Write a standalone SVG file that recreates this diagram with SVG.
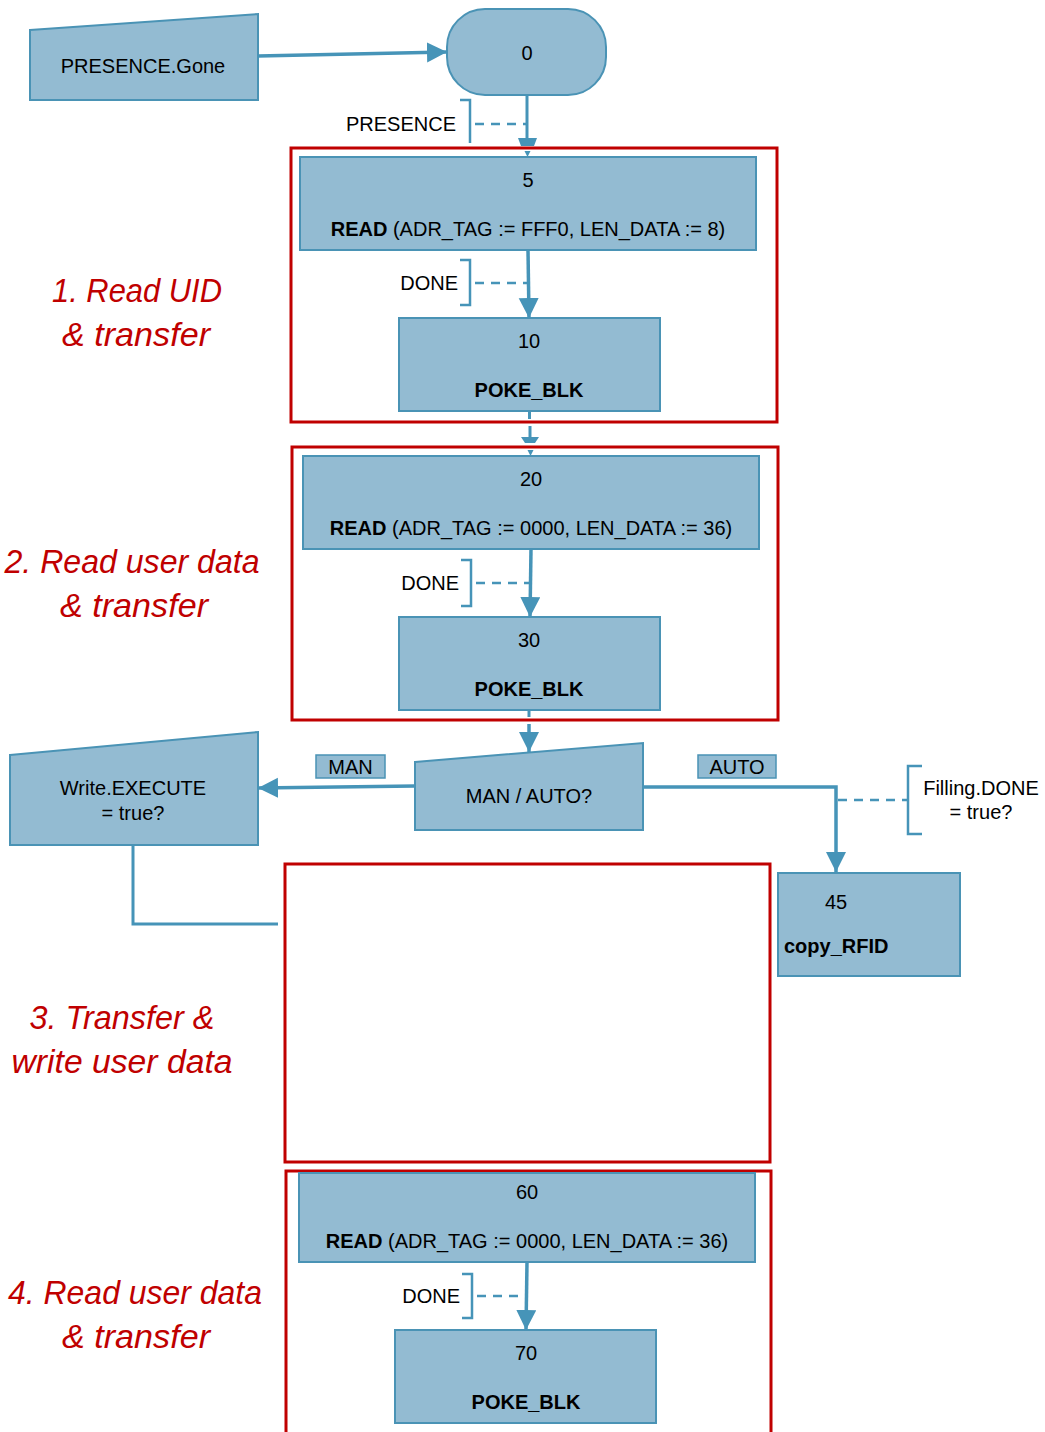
<svg xmlns="http://www.w3.org/2000/svg" width="1045" height="1432" viewBox="0 0 1045 1432">
<style>
.node{fill:#93BBD2;stroke:#4A93B5;stroke-width:2}
.lbl{fill:#93BBD2;stroke:#4A93B5;stroke-width:1.5}
.grp{fill:none;stroke:#C00000;stroke-width:3}
.t{font-family:"Liberation Sans",Arial,sans-serif;font-size:20px;fill:#000}
.b{font-weight:bold}
.r{font-family:"Liberation Sans",Arial,sans-serif;font-style:italic;font-size:34px;fill:#C00000}
.c{fill:none;stroke:#4694B8;stroke-width:3.5}
.cl{fill:none;stroke:#4694B8;stroke-width:3}
.br{fill:none;stroke:#4694B8;stroke-width:2.5}
.d{fill:none;stroke:#4694B8;stroke-width:2.5;stroke-dasharray:9,7}
.ah{fill:#4694B8}
</style>
<defs>
<marker id="arr" markerUnits="userSpaceOnUse" markerWidth="22" markerHeight="22" refX="20" refY="10" orient="auto">
<path d="M0,0 L20,10 L0,20 Z" fill="#4694B8"/>
</marker>
</defs>

<!-- group frames -->
<g id="groups">
<rect class="grp" x="291" y="148" width="486" height="274"/>
<rect class="grp" x="292" y="447" width="486" height="273"/>
<rect class="grp" x="285" y="864" width="485" height="298"/>
<rect class="grp" x="286" y="1171" width="485" height="270"/>
</g>

<!-- red labels -->
<g id="labels">
<text class="r" x="137" y="302" text-anchor="middle" textLength="170" lengthAdjust="spacingAndGlyphs">1. Read UID</text>
<text class="r" x="136" y="346" text-anchor="middle" textLength="148" lengthAdjust="spacingAndGlyphs">&amp; transfer</text>
<text class="r" x="132" y="573" text-anchor="middle" textLength="255" lengthAdjust="spacingAndGlyphs">2. Read user data</text>
<text class="r" x="134" y="617" text-anchor="middle" textLength="148" lengthAdjust="spacingAndGlyphs">&amp; transfer</text>
<text class="r" x="122" y="1029" text-anchor="middle" textLength="185" lengthAdjust="spacingAndGlyphs">3. Transfer &amp;</text>
<text class="r" x="122" y="1073" text-anchor="middle" textLength="221" lengthAdjust="spacingAndGlyphs">write user data</text>
<text class="r" x="135" y="1304" text-anchor="middle" textLength="254" lengthAdjust="spacingAndGlyphs">4. Read user data</text>
<text class="r" x="136" y="1348" text-anchor="middle" textLength="148" lengthAdjust="spacingAndGlyphs">&amp; transfer</text>
</g>

<!-- nodes -->
<g id="n-presence-gone">
<polygon class="node" points="30,30 258,14 258,100 30,100"/>
<text class="t" x="143" y="73" text-anchor="middle">PRESENCE.Gone</text>
</g>
<g id="n-0">
<rect class="node" x="447" y="9" width="159" height="86" rx="38" ry="38"/>
<text class="t" x="527" y="60" text-anchor="middle">0</text>
</g>
<g id="n-5">
<rect class="node" x="300" y="157" width="456" height="93"/>
<text class="t" x="528" y="187" text-anchor="middle">5</text>
<text class="t" x="528" y="236" text-anchor="middle"><tspan class="b">READ</tspan> (ADR_TAG := FFF0, LEN_DATA := 8)</text>
</g>
<g id="n-10">
<rect class="node" x="399" y="318" width="261" height="93"/>
<text class="t" x="529" y="348" text-anchor="middle">10</text>
<text class="t b" x="529" y="397" text-anchor="middle">POKE_BLK</text>
</g>
<g id="n-20">
<rect class="node" x="303" y="456" width="456" height="93"/>
<text class="t" x="531" y="486" text-anchor="middle">20</text>
<text class="t" x="531" y="535" text-anchor="middle"><tspan class="b">READ</tspan> (ADR_TAG := 0000, LEN_DATA := 36)</text>
</g>
<g id="n-30">
<rect class="node" x="399" y="617" width="261" height="93"/>
<text class="t" x="529" y="647" text-anchor="middle">30</text>
<text class="t b" x="529" y="696" text-anchor="middle">POKE_BLK</text>
</g>
<g id="n-manauto">
<polygon class="node" points="415,762 643,743 643,830 415,830"/>
<text class="t" x="529" y="803" text-anchor="middle">MAN / AUTO?</text>
</g>
<g id="n-write">
<polygon class="node" points="10,755 258,732 258,845 10,845"/>
<text class="t" x="133" y="795" text-anchor="middle">Write.EXECUTE</text>
<text class="t" x="133" y="820" text-anchor="middle">= true?</text>
</g>
<g id="n-45">
<rect class="node" x="778" y="873" width="182" height="103"/>
<text class="t" x="836" y="909" text-anchor="middle">45</text>
<text class="t b" x="784" y="953">copy_RFID</text>
</g>
<g id="n-60">
<rect class="node" x="299" y="1173" width="456" height="89"/>
<text class="t" x="527" y="1199" text-anchor="middle">60</text>
<text class="t" x="527" y="1248" text-anchor="middle"><tspan class="b">READ</tspan> (ADR_TAG := 0000, LEN_DATA := 36)</text>
</g>
<g id="n-70">
<rect class="node" x="395" y="1330" width="261" height="93"/>
<text class="t" x="526" y="1360" text-anchor="middle">70</text>
<text class="t b" x="526" y="1409" text-anchor="middle">POKE_BLK</text>
</g>

<!-- connectors -->
<g id="connectors">
<line class="c" x1="258" y1="56" x2="447" y2="52" marker-end="url(#arr)"/>
<!-- 0 -> 5 -->
<line class="cl" x1="527" y1="95" x2="527" y2="138"/>
<polygon class="ah" points="518,138 537,138 534,146 521,146"/>
<polygon class="ah" points="524.5,151 530.5,151 527.5,157"/>
<!-- 5 -> 10 -->
<line class="c" x1="528" y1="250" x2="529" y2="318" marker-end="url(#arr)"/>
<!-- 10 -> 20 -->
<line class="cl" x1="529.5" y1="411" x2="529.5" y2="419"/>
<line class="cl" x1="530" y1="426" x2="530" y2="437"/>
<polygon class="ah" points="521,437 539,437 535,443 525,443"/>
<polygon class="ah" points="527.5,450 533.5,450 530.5,456"/>
<!-- 20 -> 30 -->
<line class="c" x1="531" y1="549" x2="530" y2="617" marker-end="url(#arr)"/>
<!-- 30 -> MAN/AUTO -->
<line class="cl" x1="529" y1="710" x2="529" y2="717"/>
<line class="c" x1="529" y1="724" x2="529" y2="752" marker-end="url(#arr)"/>
<!-- MAN -->
<line class="c" x1="415" y1="786" x2="258" y2="788" marker-end="url(#arr)"/>
<!-- AUTO -->
<polyline class="c" points="643,787 836,787 836,872" marker-end="url(#arr)"/>
<!-- Write.EXECUTE to group 3 -->
<polyline class="cl" points="133,845 133,924 278,924"/>
<!-- 60 -> 70 -->
<line class="c" x1="527" y1="1262" x2="526" y2="1330" marker-end="url(#arr)"/>
</g>

<!-- transition conditions -->
<g id="conditions">
<path class="br" d="M460,100 H470 V143"/>
<line class="d" x1="475" y1="124" x2="527" y2="124"/>
<text class="t" x="456" y="131" text-anchor="end">PRESENCE</text>

<path class="br" d="M460,260 H470 V305 H460"/>
<line class="d" x1="475" y1="283" x2="528" y2="283"/>
<text class="t" x="458" y="290" text-anchor="end">DONE</text>

<path class="br" d="M461,560 H471 V606 H461"/>
<line class="d" x1="476" y1="583" x2="530" y2="583"/>
<text class="t" x="459" y="590" text-anchor="end">DONE</text>

<path class="br" d="M462,1274 H472 V1318 H462"/>
<line class="d" x1="477" y1="1296" x2="527" y2="1296"/>
<text class="t" x="460" y="1303" text-anchor="end">DONE</text>

<path class="br" d="M922,766 H908 V834 H922"/>
<line class="d" x1="838" y1="800" x2="908" y2="800"/>
<text class="t" x="981" y="795" text-anchor="middle">Filling.DONE</text>
<text class="t" x="981" y="819" text-anchor="middle">= true?</text>

<rect class="lbl" x="316" y="755" width="69" height="23"/>
<text class="t" x="350.5" y="774" text-anchor="middle">MAN</text>
<rect class="lbl" x="698" y="755" width="78" height="23"/>
<text class="t" x="737" y="774" text-anchor="middle">AUTO</text>
</g>
</svg>
